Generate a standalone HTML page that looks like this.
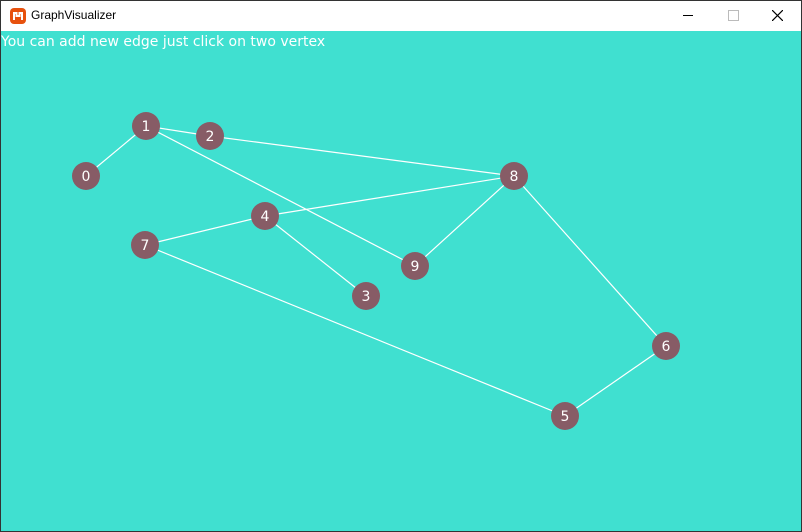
<!DOCTYPE html>
<html><head><meta charset="utf-8"><style>
body{margin:0;width:802px;height:532px;overflow:hidden;font-family:"Liberation Sans",sans-serif}
#win{position:absolute;left:0;top:0;width:800px;height:530px;border:1px solid #333;background:#40e0d0}
#bar{position:absolute;left:0;top:0;width:800px;height:30px;background:#fff}
#title{position:absolute;left:30px;top:7px;font-size:12px;color:#000}
#msg{position:absolute;left:0px;top:33px;color:#fff;font-family:"Comic Sans MS","DejaVu Sans",sans-serif;font-size:14px}
</style></head><body>
<div id="win">
<div id="bar">
<svg style="position:absolute;left:9px;top:7px" width="16" height="16"><rect width="16" height="16" rx="4" fill="#e7510e"/><path d="M4 12V5h2.5v3h3V5H12v7" stroke="#fff" stroke-width="2" fill="none"/></svg>
<div id="title">GraphVisualizer</div>
<div style="position:absolute;left:682px;top:14px;width:10px;height:1px;background:#000"></div>
<div style="position:absolute;left:727px;top:9px;width:9px;height:9px;border:1px solid #bbb"></div>
<svg style="position:absolute;left:771px;top:9px" width="11" height="11"><path d="M0 0L11 11M11 0L0 11" stroke="#000" stroke-width="1.2"/></svg>
</div>
<div id="msg">You can add new edge just click on two vertex</div>
<svg id="g" width="800" height="530" style="position:absolute;left:0;top:0"></svg>
</div>
<script>
const nodeIds=[0,1,2,3,4,5,6,7,8,9];
const nodeX=[85,145,209,365,264,564,665,144,513,414];
const nodeY=[175,125,135,295,215,415,345,244,175,265];
const edgeFrom=[0,1,2,1,8,8,4,4,7,5];
const edgeTo=[1,2,8,9,9,4,7,3,5,6];
const edgeFrom2=[6];const edgeTo2=[8];
const NS="http://www.w3.org/2000/svg";
const g=document.getElementById('g');
const ef=edgeFrom.concat(edgeFrom2),et=edgeTo.concat(edgeTo2);
ef.forEach((a,i)=>{const b=et[i];const l=document.createElementNS(NS,'line');
l.setAttribute('x1',nodeX[a]);l.setAttribute('y1',nodeY[a]);l.setAttribute('x2',nodeX[b]);l.setAttribute('y2',nodeY[b]);
l.setAttribute('stroke','#fff');l.setAttribute('stroke-width','1.2');


g.appendChild(l);});
nodeIds.forEach((id,i)=>{const c=document.createElementNS(NS,'circle');
c.setAttribute('cx',nodeX[i]);c.setAttribute('cy',nodeY[i]);c.setAttribute('r',14);c.setAttribute('fill','#875c66');


g.appendChild(c);
const t=document.createElementNS(NS,'text');t.setAttribute('x',nodeX[i]);t.setAttribute('y',nodeY[i]+5);
t.setAttribute('text-anchor','middle');t.setAttribute('fill','#fff');t.setAttribute('font-size','14');
t.setAttribute('font-family','"Comic Sans MS","DejaVu Sans",sans-serif');t.textContent=id;


g.appendChild(t);});
</script>
</body></html>
